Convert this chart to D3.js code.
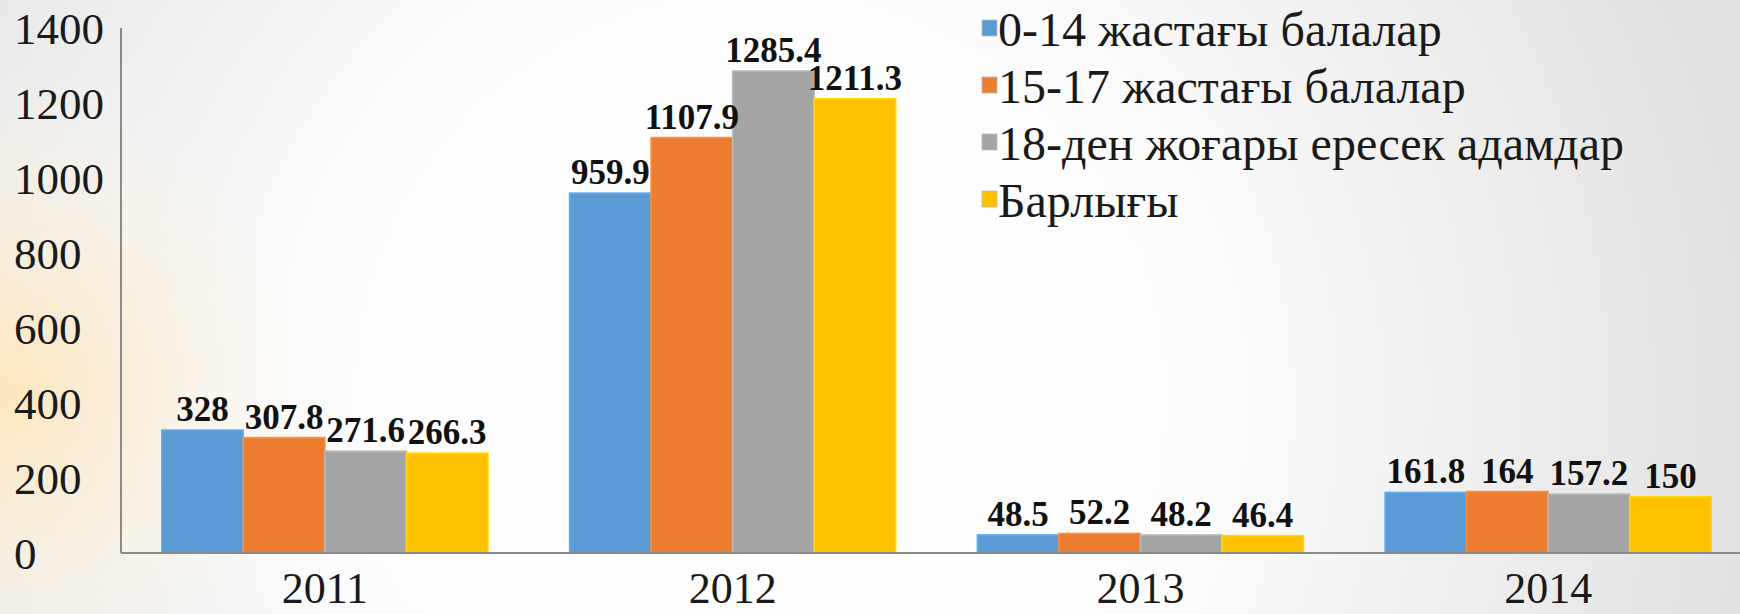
<!DOCTYPE html>
<html lang="en">
<head>
<meta charset="UTF-8">
<title>Chart</title>
<script src="https://d3js.org/d3.v7.min.js"></script>
<style>
  body { margin: 0; overflow: hidden; }
  svg { display: block; }
  svg text { font-family: "Liberation Serif", "DejaVu Serif", serif; }
</style>
</head>
<body>
<svg id="chart" width="1740" height="614"></svg>
<script>
// data
var years = ["2011", "2012", "2013", "2014"];
var seriesNames = ["0-14 жастағы балалар", "15-17 жастағы балалар", "18-ден жоғары ересек адамдар", "Барлығы"];
var kids014 = [328, 959.9, 48.5, 161.8];
var kids1517 = [307.8, 1107.9, 52.2, 164];
var adults18 = [271.6, 1285.4, 48.2, 157.2];
var total = [266.3, 1211.3, 46.4, 150];
var yTicks = [0, 200, 400, 600, 800, 1000, 1200, 1400];
var colors = ["#5b9bd5", "#ed7d31", "#a5a5a5", "#ffc000"];

var series = [kids014, kids1517, adults18, total];
var serif = "'Liberation Serif', 'DejaVu Serif', serif";

var svg = d3.select("#chart"),
    W = +svg.attr("width"),
    H = +svg.attr("height");

// background: white centre, grey edges, peach glow on the left
var defs = svg.append("defs");
var bg = defs.append("radialGradient").attr("id", "bg")
    .attr("gradientUnits", "userSpaceOnUse")
    .attr("cx", 760).attr("cy", 400).attr("r", 1000);
bg.append("stop").attr("offset", "0").attr("stop-color", "#ffffff");
bg.append("stop").attr("offset", "0.45").attr("stop-color", "#fcfcfc");
bg.append("stop").attr("offset", "1").attr("stop-color", "#e2e2e2");

var peach = defs.append("radialGradient").attr("id", "peach")
    .attr("gradientUnits", "userSpaceOnUse")
    .attr("cx", 0).attr("cy", 390).attr("r", 330);
peach.append("stop").attr("offset", "0").attr("stop-color", "#fde6bd").attr("stop-opacity", 1);
peach.append("stop").attr("offset", "0.45").attr("stop-color", "#fdeed3").attr("stop-opacity", 0.6);
peach.append("stop").attr("offset", "1").attr("stop-color", "#fff8ee").attr("stop-opacity", 0);

svg.append("rect").attr("width", W).attr("height", H).attr("fill", "url(#bg)");
svg.append("rect").attr("width", W).attr("height", H).attr("fill", "url(#peach)");

var x0 = d3.scaleBand().domain(years).range([121, 1752]).paddingInner(0).paddingOuter(0);
var x1 = d3.scaleBand().domain(d3.range(series.length))
    .range([x0.bandwidth() * 0.1, x0.bandwidth() * 0.9]);
var y = d3.scaleLinear().domain([0, 1400]).range([553, 28]);

// bars
var groups = svg.append("g").selectAll("g")
    .data(years)
    .join("g")
    .attr("transform", function(d) { return "translate(" + x0(d) + ",0)"; });

groups.selectAll("rect")
    .data(function(d, i) { return series.map(function(s, k) { return { k: k, v: s[i] }; }); })
    .join("rect")
    .attr("x", function(d) { return x1(d.k); })
    .attr("y", function(d) { return y(d.v); })
    .attr("width", x1.bandwidth())
    .attr("height", function(d) { return y(0) - y(d.v); })
    .attr("fill", function(d) { return colors[d.k]; })
    .attr("stroke", function(d) { return d3.color(colors[d.k]).brighter(0.35); })
    .attr("stroke-width", 1.5);

groups.selectAll("text")
    .data(function(d, i) { return series.map(function(s, k) { return { k: k, v: s[i] }; }); })
    .join("text")
    .attr("x", function(d) { return x1(d.k) + x1.bandwidth() / 2; })
    .attr("y", function(d) { return y(d.v) - 9; })
    .attr("text-anchor", "middle")
    .attr("font-family", serif)
    .attr("font-size", 35)
    .attr("font-weight", "bold")
    .attr("fill", "#111")
    .text(function(d) { return d.v; });

// axes
var yAxis = svg.append("g").attr("transform", "translate(121,0)")
    .call(d3.axisLeft(y).tickValues(yTicks).tickSize(0).tickFormat(d3.format("d")));
yAxis.select(".domain").attr("stroke", "#8a8a8a").attr("stroke-width", 2)
    .attr("d", "M0," + y(0) + "V" + y(1400));
yAxis.selectAll("text")
    .attr("x", 14 - 121).attr("dy", "0.35em")
    .attr("text-anchor", "start")
    .attr("font-family", serif)
    .attr("font-size", 45).attr("fill", "#1a1a1a");

var xAxis = svg.append("g").attr("transform", "translate(0," + y(0) + ")")
    .call(d3.axisBottom(x0).tickSize(0));
xAxis.select(".domain").attr("stroke", "#8a8a8a").attr("stroke-width", 2)
    .attr("d", "M121,0H" + W);
xAxis.selectAll("text")
    .attr("y", 50).attr("dy", 0)
    .attr("font-family", serif)
    .attr("font-size", 44).attr("fill", "#1a1a1a");

// legend
var legend = svg.append("g").selectAll("g")
    .data(seriesNames)
    .join("g")
    .attr("transform", function(d, i) { return "translate(982," + (28 + i * 57) + ")"; });
legend.append("rect")
    .attr("x", 0).attr("y", -8).attr("width", 15).attr("height", 16)
    .attr("fill", function(d, i) { return colors[i]; })
    .attr("stroke", "#bbb").attr("stroke-width", 0.8);
legend.append("text")
    .attr("x", 16).attr("y", 18)
    .attr("font-family", serif)
    .attr("font-size", 48).attr("fill", "#1a1a1a")
    .text(function(d) { return d; });
</script>
</body>
</html>
